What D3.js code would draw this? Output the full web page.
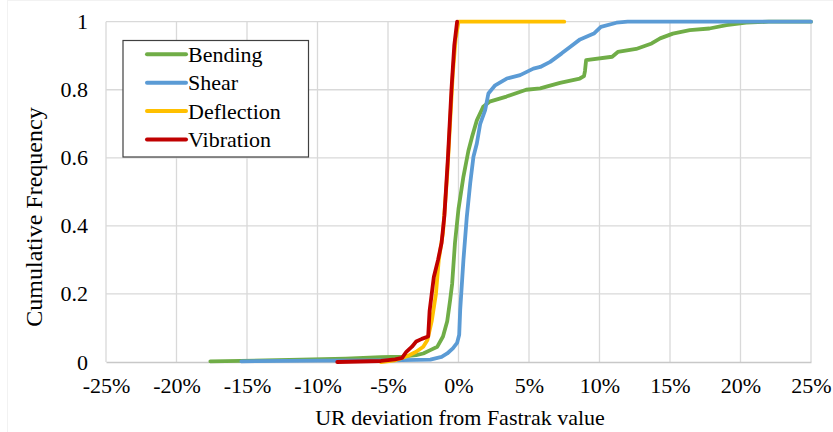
<!DOCTYPE html>
<html>
<head>
<meta charset="utf-8">
<script src="https://cdn.jsdelivr.net/npm/d3@7"></script>
<style>
  html, body { margin: 0; padding: 0; background: #fff; }
  svg { display: block; }
</style>
</head>
<body>
<svg id="chart" width="833" height="432"></svg>
<script>
// x = deviation in %, y = cumulative frequency
const seriesNames = ['Bending', 'Shear', 'Deflection', 'Vibration']
const seriesColors = ['#70ad47', '#5b9bd5', '#ffc000', '#c00000']

const bending = [
  [-17.6, 0.002], [-12, 0.006], [-8, 0.01], [-5.5, 0.014], [-4, 0.016], [-3, 0.02],
  [-2.5, 0.025], [-2.0, 0.035], [-1.5, 0.045], [-1.1, 0.075], [-0.8, 0.12], [-0.6, 0.18],
  [-0.45, 0.23], [-0.25, 0.35], [0.0, 0.45], [0.35, 0.545], [0.7, 0.62], [0.95, 0.66],
  [1.3, 0.71], [1.75, 0.75], [2.2, 0.765], [3.4, 0.78], [4.8, 0.8], [5.8, 0.804],
  [6.3, 0.81], [7.2, 0.82], [8.6, 0.833], [8.9, 0.84], [8.97, 0.855], [9.05, 0.887],
  [10.9, 0.897], [11.3, 0.911], [12.6, 0.92], [13.7, 0.936], [14.3, 0.951], [15.2, 0.965],
  [16.4, 0.975], [17.8, 0.98], [19.0, 0.99], [20.4, 0.997], [22, 1], [25, 1]
]
const shear = [
  [-15.4, 0.002], [-10, 0.004], [-5, 0.005], [-3, 0.006], [-2.0, 0.007], [-1.2, 0.015],
  [-0.8, 0.025], [-0.4, 0.04], [-0.1, 0.056], [0.05, 0.08], [0.12, 0.153], [0.35, 0.3],
  [0.59, 0.427], [0.83, 0.525], [1.06, 0.603], [1.3, 0.642], [1.54, 0.7], [1.89, 0.74],
  [2.12, 0.789], [2.6, 0.813], [3.42, 0.833], [4.37, 0.843], [5.31, 0.862], [5.8, 0.867],
  [6.5, 0.882], [7.32, 0.907], [7.91, 0.926], [8.62, 0.948], [9.6, 0.965], [10.1, 0.985],
  [11.2, 0.997], [12, 1], [25, 1]
]
const deflection = [
  [-5.5, 0], [-4.5, 0.005], [-4.0, 0.012], [-3.5, 0.02], [-3.0, 0.03], [-2.5, 0.045],
  [-2.2, 0.065], [-1.9, 0.12], [-1.6, 0.2], [-1.4, 0.3], [-1.1, 0.38], [-0.8, 0.55],
  [-0.6, 0.7], [-0.4, 0.85], [-0.2, 0.95], [0.0, 1.0], [7.5, 1.0]
]
const vibration = [
  [-8.6, 0], [-5.5, 0.003], [-4.5, 0.008], [-4.0, 0.012], [-3.7, 0.03], [-3.3, 0.045],
  [-3.0, 0.06], [-2.6, 0.068], [-2.15, 0.075], [-2.05, 0.15], [-1.9, 0.2], [-1.75, 0.25],
  [-1.45, 0.3], [-1.2, 0.35], [-1.0, 0.43], [-0.75, 0.6], [-0.5, 0.8], [-0.3, 0.93], [-0.1, 1.0]
]
const seriesData = [bending, shear, deflection, vibration]

const xTicks = [-25, -20, -15, -10, -5, 0, 5, 10, 15, 20, 25]
const yTicks = [0, 0.2, 0.4, 0.6, 0.8, 1]

const FONT = '"Liberation Serif", "Times New Roman", serif'
const svg = d3.select('#chart')
const plotLeft = 106, plotRight = 811, plotTop = 21.7, plotBottom = 362

const x = d3.scaleLinear().domain([-25, 25]).range([plotLeft, plotRight])
const y = d3.scaleLinear().domain([0, 1]).range([plotBottom, plotTop])

// faint chart area border
svg.append('rect')
  .attr('x', 7.5).attr('y', 0.5).attr('width', 840).attr('height', 440)
  .attr('fill', 'none').attr('stroke', '#f2f2f2')

// Gridlines
svg.append('g')
  .selectAll('line')
  .data(xTicks)
  .join('line')
  .attr('x1', d => x(d)).attr('x2', d => x(d))
  .attr('y1', plotTop).attr('y2', plotBottom)
  .attr('stroke', '#d9d9d9').attr('stroke-width', 1.3)

svg.append('g')
  .selectAll('line')
  .data(yTicks.filter(d => d > 0))
  .join('line')
  .attr('x1', plotLeft).attr('x2', plotRight)
  .attr('y1', d => y(d)).attr('y2', d => y(d))
  .attr('stroke', '#d9d9d9').attr('stroke-width', 1.3)

// x axis
const xAxis = svg.append('g')
  .attr('transform', `translate(0,${plotBottom})`)
  .call(d3.axisBottom(x).tickValues(xTicks).tickSize(0).tickFormat(d => `${d}%`))
  .attr('font-family', FONT)
xAxis.select('.domain').attr('stroke', '#c8c8c8').attr('stroke-width', 1.3)
xAxis.selectAll('text')
  .attr('y', 31).attr('dy', 0)
  .attr('fill', '#000')
  .style('font-size', '22px')
  .style('font-family', FONT)

// y axis
const yAxis = svg.append('g')
  .attr('transform', `translate(${plotLeft},0)`)
  .call(d3.axisLeft(y).tickValues(yTicks).tickSize(0).tickFormat(d => String(d)))
  .attr('font-family', FONT)
yAxis.select('.domain').remove()
yAxis.selectAll('text')
  .attr('x', -18).attr('dy', '0.32em')
  .attr('fill', '#000')
  .style('font-size', '22px')
  .style('font-family', FONT)

// axis titles
svg.append('text')
  .attr('x', 460).attr('y', 425)
  .attr('text-anchor', 'middle')
  .style('font-family', FONT)
  .style('font-size', '22px')
  .text('UR deviation from Fastrak value')

svg.append('text')
  .attr('transform', 'translate(42,217) rotate(-90)')
  .attr('text-anchor', 'middle')
  .style('font-family', FONT)
  .style('font-size', '24px')
  .text('Cumulative Frequency')

// series
const line = d3.line()
  .x(d => x(d[0]))
  .y(d => y(d[1]))

svg.append('g')
  .selectAll('path')
  .data(seriesData)
  .join('path')
  .attr('fill', 'none')
  .attr('stroke', (d, i) => seriesColors[i])
  .attr('stroke-width', 3.8)
  .attr('stroke-linejoin', 'round')
  .attr('stroke-linecap', 'round')
  .attr('d', line)

// legend
const legend = svg.append('g').attr('transform', 'translate(123,40.5)')
legend.append('rect')
  .attr('width', 185.5).attr('height', 116.5)
  .attr('fill', '#fff')
  .attr('stroke', '#404040').attr('stroke-width', 1.2)

const rows = legend.selectAll('g.row')
  .data(seriesNames)
  .join('g')
  .attr('class', 'row')
  .attr('transform', (d, i) => `translate(0,${13.8 + i * 28.4})`)

rows.append('line')
  .attr('x1', 24).attr('x2', 63)
  .attr('stroke', (d, i) => seriesColors[i])
  .attr('stroke-width', 4)
  .attr('stroke-linecap', 'round')

rows.append('text')
  .attr('x', 65).attr('dy', '0.34em')
  .style('font-family', FONT)
  .style('font-size', '22px')
  .text(d => d)
</script>
</body>
</html>
